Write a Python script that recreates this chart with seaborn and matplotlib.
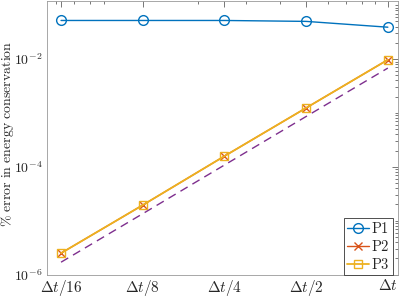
import numpy as np
import pandas as pd
import seaborn as sns
import matplotlib
matplotlib.use("Agg")
import matplotlib.pyplot as plt
from matplotlib.ticker import LogLocator, NullFormatter

# data
dt = [1/16, 1/8, 1/4, 1/2, 1]
dt_labels = [r'$\Delta t/16$', r'$\Delta t/8$', r'$\Delta t/4$', r'$\Delta t/2$', r'$\Delta t$']
p1 = [0.052, 0.052, 0.052, 0.050, 0.039]
p2 = [2.5e-6, 1.95e-5, 1.58e-4, 1.24e-3, 9.7e-3]
p3 = [2.5e-6, 1.95e-5, 1.58e-4, 1.24e-3, 9.7e-3]
ref = [1.7e-6, 1.35e-5, 1.08e-4, 8.6e-4, 6.8e-3]

sns.set_style("white")
plt.rcParams['mathtext.fontset'] = 'cm'
plt.rcParams['font.family'] = ['DejaVu Serif']

fig = plt.figure(figsize=(3.99, 2.99), dpi=100)
ax = fig.add_axes([0.118, 0.080, 0.879, 0.917])

sns.lineplot(x=dt, y=p1, ax=ax, color='#0072BD', lw=1, marker='o', ms=7,
             mfc='none', mec='#0072BD', mew=1, label=r'$\mathrm{P1}$')
sns.lineplot(x=dt, y=p2, ax=ax, color='#D95319', lw=1, marker='x', ms=6,
             mec='#D95319', mew=1, label=r'$\mathrm{P2}$')
sns.lineplot(x=dt, y=p3, ax=ax, color='#EDB120', lw=1.3, marker='s', ms=6,
             mfc='none', mec='#EDB120', mew=1, label=r'$\mathrm{P3}$')
sns.lineplot(x=dt, y=ref, ax=ax, color='#7E2F8E', lw=1, ls=(0, (6, 4)))

ax.set_xscale('log')
ax.set_yscale('log')
ax.set_xlim(2**-4.171, 2**0.122)
ax.set_ylim(0.98e-6, 0.12)

ax.set_xticks(dt)
ax.set_xticklabels(dt_labels, fontsize=11)
ax.xaxis.set_minor_locator(LogLocator(base=10, subs=np.arange(2, 10), numticks=20))
ax.xaxis.set_minor_formatter(NullFormatter())
ax.set_yticks([1e-6, 1e-4, 1e-2])
ax.set_yticklabels([r'$10^{-6}$', r'$10^{-4}$', r'$10^{-2}$'], fontsize=10)
ax.yaxis.set_minor_locator(LogLocator(base=10, subs=np.arange(1, 10), numticks=20))
ax.yaxis.set_minor_formatter(NullFormatter())

ax.tick_params(which='both', direction='in', top=True, right=True, color='0.25', width=0.5)
ax.tick_params(which='major', length=4)
ax.tick_params(which='minor', length=2)
ax.tick_params(axis='x', pad=2)
ax.tick_params(axis='y', pad=3.5)
for s in ax.spines.values():
    s.set_color('0.6')
    s.set_linewidth(0.6)

ax.set_ylabel(r'$\%\ \mathrm{error\ in\ energy\ conservation}$', fontsize=10)
ax.yaxis.set_label_coords(-0.088, 0.515)

leg = ax.legend(loc='lower right', bbox_to_anchor=(0.986, 0.002), fontsize=10.5,
                handlelength=1.5, handletextpad=0.15, borderpad=0.2,
                labelspacing=0.2, fancybox=False, framealpha=1, borderaxespad=0)
leg.get_frame().set_edgecolor('0.2')
leg.get_frame().set_linewidth(0.6)

plt.savefig('out.png', dpi=100)
